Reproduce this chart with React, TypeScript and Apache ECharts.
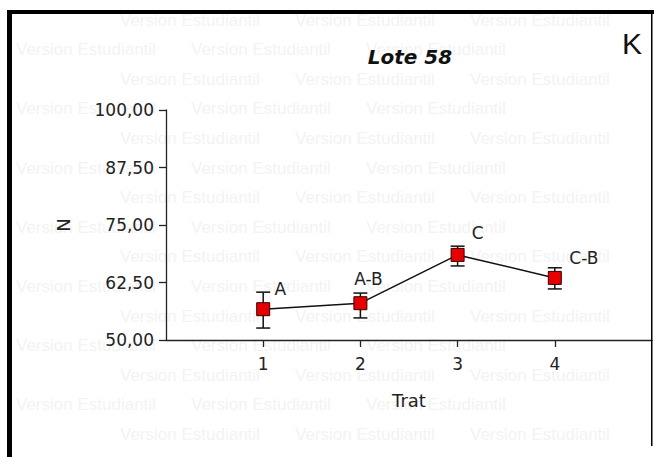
import React, { useEffect, useRef } from "react";
import * as echarts from "echarts";

// Data
const treatments = [1, 2, 3, 4];
const means = [56.7, 58.0, 68.5, 63.5];
const lower = [52.6, 54.8, 66.1, 61.1];
const upper = [60.4, 60.2, 70.4, 65.7];
const groups = ["A", "A-B", "C", "C-B"];
const yTicks = [50, 62.5, 75, 87.5, 100];
const watermarkText = "Version Estudiantil";

// label placement (layout only)
const labelOffsets: [number, number][] = [
  [17, -20],
  [8, -24],
  [20, -22],
  [29, -20],
];

const FONT = "DejaVu Sans";

export default function App() {
  const ref = useRef<HTMLDivElement>(null);

  useEffect(() => {
    if (!ref.current) return;
    const chart = echarts.init(ref.current, null, { renderer: "svg" });

    const watermark: any[] = [];
    for (let i = 0; i < 15; i++) {
      const start = i % 2 === 0 ? 120 : 16;
      for (let x = start; x + 150 <= 650; x += 175) {
        watermark.push({
          type: "text",
          x,
          y: 20 + i * 29.6,
          silent: true,
          z: -10,
          style: {
            text: watermarkText,
            fill: "#f3f3f3",
            font: "17px 'Liberation Sans', Arial, sans-serif",
            verticalAlign: "middle",
          },
        });
      }
    }

    const option: any = {
      animation: false,
      backgroundColor: "#ffffff",
      grid: { left: 166, right: 2, top: 110, bottom: 117, containLabel: false },
      xAxis: {
        type: "value",
        min: 0,
        max: 5,
        interval: 1,
        name: "Trat",
        nameLocation: "middle",
        nameGap: 51,
        nameMoveOverlap: false,
        nameTextStyle: { fontFamily: FONT, fontSize: 18, color: "#222" },
        axisLine: { lineStyle: { color: "#222", width: 1.3 } },
        axisTick: { show: true, length: 7, lineStyle: { color: "#222", width: 1.3 } },
        axisLabel: {
          showMinLabel: false,
          showMaxLabel: false,
          margin: 15,
          fontFamily: FONT,
          fontSize: 17,
          color: "#222",
          formatter: (v: number) => (treatments.includes(v) ? String(v) : ""),
        },
        splitLine: { show: false },
      },
      yAxis: {
        type: "value",
        min: 50,
        max: 100,
        interval: 12.5,
        name: "N",
        nameLocation: "middle",
        nameGap: 94,
        nameRotate: 90,
        nameMoveOverlap: false,
        nameTextStyle: { fontFamily: FONT, fontSize: 18, color: "#222" },
        axisLine: { show: true, lineStyle: { color: "#222", width: 1.3 } },
        axisTick: { show: true, length: 7, lineStyle: { color: "#222", width: 1.3 } },
        axisLabel: {
          margin: 12,
          fontFamily: FONT,
          fontSize: 17,
          color: "#222",
          formatter: (v: number) =>
            yTicks.includes(v) ? v.toFixed(2).replace(".", ",") : "",
        },
        splitLine: { show: false },
      },
      graphic: [
        ...watermark,
        {
          type: "text",
          x: 410,
          y: 57,
          z: 10,
          style: {
            text: "Lote 58",
            fill: "#111",
            font: `italic bold 20px '${FONT}'`,
            align: "center",
            verticalAlign: "middle",
          },
        },
        {
          type: "text",
          x: 632,
          y: 43,
          z: 10,
          style: {
            text: "K",
            fill: "#111",
            font: "30px 'Liberation Sans', Arial, sans-serif",
            align: "center",
            verticalAlign: "middle",
          },
        },
        { type: "rect", z: 20, shape: { x: 7, y: 10, width: 5, height: 447 }, style: { fill: "#000" } },
        { type: "rect", z: 20, shape: { x: 7, y: 10, width: 647, height: 4 }, style: { fill: "#000" } },
        { type: "rect", z: 20, shape: { x: 651, y: 10, width: 1.5, height: 436 }, style: { fill: "#000" } },
      ],
      series: [
        {
          type: "custom",
          z: 2,
          silent: true,
          data: treatments.map((t, i) => [t, lower[i], upper[i]]),
          renderItem: (params: any, api: any) => {
            const x = api.value(0);
            const lo = api.coord([x, api.value(1)]);
            const hi = api.coord([x, api.value(2)]);
            const hw = 7;
            const style = { stroke: "#111", lineWidth: 1.5 };
            return {
              type: "group",
              children: [
                { type: "line", shape: { x1: lo[0], y1: lo[1], x2: hi[0], y2: hi[1] }, style },
                { type: "line", shape: { x1: lo[0] - hw, y1: lo[1], x2: lo[0] + hw, y2: lo[1] }, style },
                { type: "line", shape: { x1: hi[0] - hw, y1: hi[1], x2: hi[0] + hw, y2: hi[1] }, style },
              ],
            };
          },
        },
        {
          type: "line",
          z: 3,
          data: treatments.map((t, i) => ({
            value: [t, means[i]],
            label: { offset: labelOffsets[i] },
          })),
          symbol: "rect",
          symbolSize: 13,
          showSymbol: true,
          lineStyle: { color: "#111", width: 1.5 },
          itemStyle: { color: "#e60000", borderColor: "#3a0000", borderWidth: 1 },
          label: {
            show: true,
            position: "inside",
            fontFamily: FONT,
            fontSize: 17,
            color: "#222",
            formatter: (p: any) => groups[p.dataIndex],
          },
        },
      ],
    };

    chart.setOption(option);
    return () => chart.dispose();
  }, []);

  return (
    <div
      ref={ref}
      style={{ position: "fixed", left: 0, top: 0, width: 654, height: 457 }}
    />
  );
}
